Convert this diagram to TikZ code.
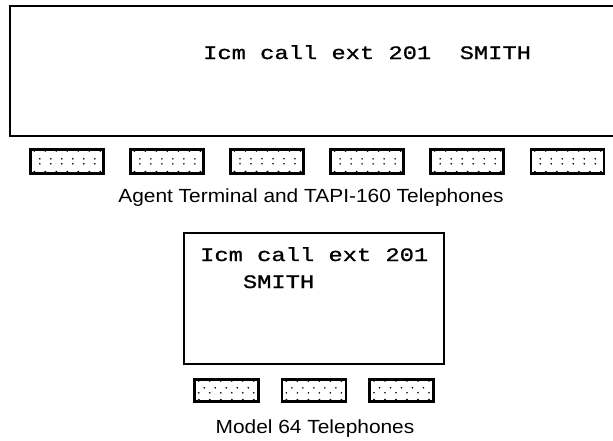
\documentclass[tikz,border=0pt]{standalone}
\usepackage{fontspec}
\newfontfamily\lcdfont[FakeStretch=1.25,FakeBold=1]{Liberation Mono}
\newfontfamily\capfont[FakeStretch=1.1]{Liberation Sans}
\usepackage{tikz}
\usetikzlibrary{positioning}

\begin{document}
\begin{tikzpicture}[
  x=1pt, y=-1pt,
  disp/.style={draw, line width=1.8pt, inner sep=0pt, anchor=north west},
  lcd/.style={font=\lcdfont\fontsize{19}{27}\selectfont, inner sep=0pt, anchor=base west, align=left},
  captext/.style={font=\capfont\fontsize{19}{22}\selectfont, inner sep=0pt, anchor=base},
  % dots are placed from the key's centre
  keytop/.style={draw, line width=2.6pt, inner sep=0pt, minimum width=73pt, minimum height=24pt,
    path picture={
      \foreach \t in {0,...,6} {
        \fill (-32.5+11*\t,-10.5) circle (1.1pt);
        \fill (-32.5+11*\t,10.5) circle (1.1pt);
      }
      \foreach \t in {0,...,5} {
        \fill (-27+11*\t,-2.5) circle (0.9pt);
        \fill (-27+11*\t,2.5) circle (0.9pt);
      }}},
  keymid/.style={draw, line width=2.6pt, inner sep=0pt, minimum width=64pt, minimum height=22pt,
    path picture={
      \foreach \t in {0,...,5} {
        \fill (-27.5+11*\t,-9.5) circle (1.1pt);
        \fill (-27.5+11*\t,9.5) circle (1.1pt);
        \fill (-27.5+11*\t,2.5) circle (0.9pt);
      }
      \foreach \t in {0,...,4} {
        \fill (-22+11*\t,-2.5) circle (0.9pt);
      }}}]
  \useasboundingbox (0,0) rectangle (613,440);
  \clip (0,0) rectangle (613,440);
  % agent terminal / TAPI-160 display, runs off the right side
  \node[disp, minimum width=640pt, minimum height=130pt] (tdisp) at (9,5) {};
  \node[lcd] (tline) at (203,59) {Icm call ext 201\ \ SMITH};
  \node[keytop, anchor=north west] (k1) at (29,148) {};
  \node[keytop, right=24.5pt of k1] (k2) {};
  \node[keytop, right=24.5pt of k2] (k3) {};
  \node[keytop, right=24.5pt of k3] (k4) {};
  \node[keytop, right=24.5pt of k4] (k5) {};
  \node[keytop, right=24.5pt of k5] (k6) {};
  \node[captext] (tcap) at (311,202) {Agent Terminal and TAPI-160 Telephones};
  % model 64 display
  \node[disp, minimum width=260pt, minimum height=131pt] (mdisp) at (183,232) {};
  \node[lcd] (mline) at (200,288) {Icm call ext 201\\\phantom{Icm}SMITH};
  \node[keymid, anchor=north west] (m1) at (193,378) {};
  \node[keymid, right=21pt of m1] (m2) {};
  \node[keymid, right=21pt of m2] (m3) {};
  \node[captext] (mcap) at (315,433) {Model 64 Telephones};
\end{tikzpicture}
\end{document}
